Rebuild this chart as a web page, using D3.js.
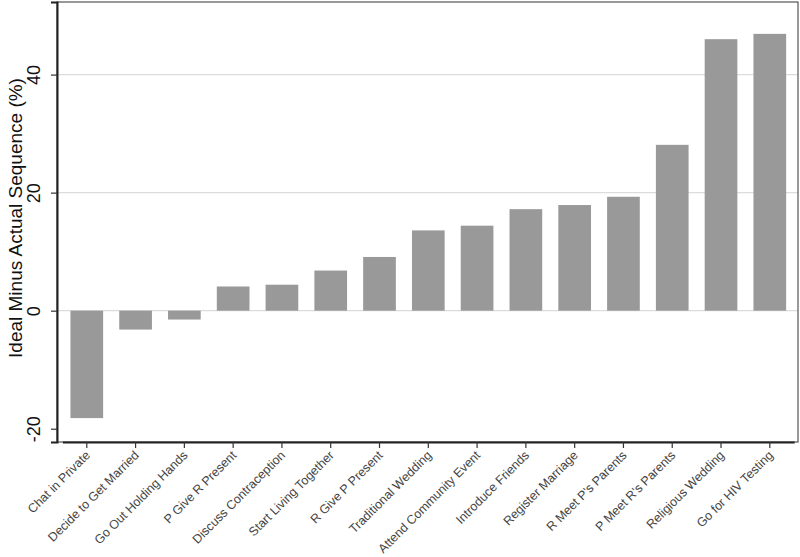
<!DOCTYPE html>
<html><head><meta charset="utf-8">
<script src="https://cdn.jsdelivr.net/npm/d3@7"></script>
<style>body{margin:0;background:#fff}svg{display:block}</style>
</head><body>
<svg id="c" width="800" height="557"></svg>
<script>
const categories = ["Chat in Private","Decide to Get Married","Go Out Holding Hands","P Give R Present","Discuss Contraception","Start Living Together","R Give P Present","Traditional Wedding","Attend Community Event","Introduce Friends","Register Marriage","R Meet P's Parents","P Meet R's Parents","Religious Wedding","Go for HIV Testing"];
const values = [-18.2,-3.2,-1.5,4.1,4.4,6.8,9.1,13.6,14.4,17.2,17.9,19.3,28.1,46.0,46.9];
const yTicks = [-20,0,20,40];
const gridTicks = [0,20,40];
const yTitle = "Ideal Minus Actual Sequence (%)";

const svg = d3.select("#c");
const L = 57, R = 798, T = 2, B = 442;
const y = d3.scaleLinear().domain([-22.25, 52.3]).range([B, T]);
const x = d3.scaleBand().domain(categories).range([62.4, 794.2]).paddingInner(0.33).paddingOuter(0.165);

// grid
svg.append("g").selectAll("line").data(gridTicks).join("line")
  .attr("x1", L).attr("x2", R).attr("y1", d => y(d)).attr("y2", d => y(d))
  .attr("stroke", "#dcdcdc").attr("stroke-width", 1.3);

// bars
svg.append("g").selectAll("rect").data(values).join("rect")
  .attr("x", (d, i) => x(categories[i]))
  .attr("width", x.bandwidth())
  .attr("y", d => y(Math.max(0, d)))
  .attr("height", d => Math.abs(y(d) - y(0)))
  .attr("fill", "#999999");

// frame
svg.append("rect").attr("x", L).attr("y", T).attr("width", R - L).attr("height", B - T)
  .attr("fill", "none").attr("stroke", "#555").attr("stroke-width", 1.2);

// y axis
const ya = svg.append("g").attr("transform", `translate(${L},0)`)
  .call(d3.axisLeft(y).tickValues(yTicks).tickSize(6).tickFormat(d => String(d)));
ya.select(".domain").attr("stroke", "#222").attr("stroke-width", 2);
ya.selectAll(".tick line").attr("stroke", "#333").attr("stroke-width", 1.2);
ya.selectAll(".tick text")
  .attr("transform", "rotate(-90)").attr("x", 0).attr("y", -17).attr("dy", 0)
  .attr("text-anchor", "middle")
  .style("font-family", "Liberation Sans, Arial, sans-serif").style("font-size", "18px").attr("fill", "#111");

// x axis
const xa = svg.append("g").attr("transform", `translate(0,${B})`)
  .call(d3.axisBottom(x).tickSize(6).tickSizeOuter(0));
xa.select(".domain").attr("stroke", "#222").attr("stroke-width", 2);
xa.selectAll(".tick line").attr("stroke", "#333").attr("stroke-width", 1.2);
xa.selectAll(".tick text")
  .attr("text-anchor", "end").attr("x", 0).attr("y", 0).attr("dy", 0)
  .attr("transform", "translate(4,14) rotate(-45)")
  .style("font-family", "Liberation Sans, Arial, sans-serif").style("font-size", "12.5px").attr("fill", "#444");

// y title
svg.append("text").attr("transform", `translate(22,${(T + B) / 2 - 4}) rotate(-90)`)
  .attr("text-anchor", "middle")
  .style("font-family", "Liberation Sans, Arial, sans-serif").style("font-size", "19px").attr("fill", "#111")
  .text(yTitle);
</script>
</body></html>
